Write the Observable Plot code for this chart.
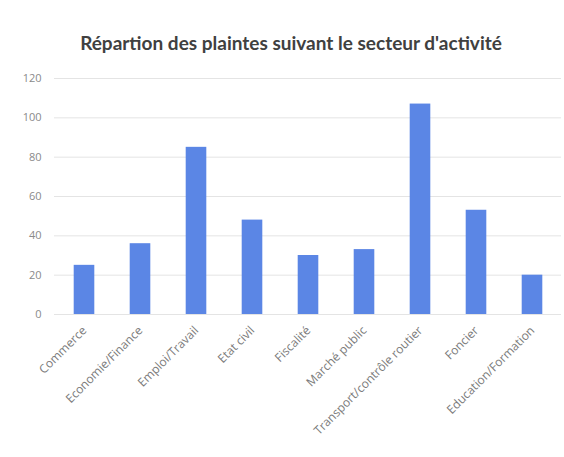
<!DOCTYPE html>
<html>
<head>
<meta charset="utf-8">
<script src="https://cdn.jsdelivr.net/npm/d3@7"></script>
<script src="https://cdn.jsdelivr.net/npm/@observablehq/plot@0.6"></script>
<style>
  html, body { margin: 0; padding: 0; background: #ffffff; }
  #wrap { width: 564px; height: 457px; overflow: hidden; }
  #title { height: 60px; box-sizing: border-box; padding-top: 33px; padding-left: 18px; text-align: center;
           font-family: Lato, "Open Sans", sans-serif; font-weight: bold; font-size: 19px; color: #404040; line-height: 20px; }
</style>
</head>
<body>
<div id="wrap">
  <div id="title">Répartion des plaintes suivant le secteur d'activité</div>
  <div id="chart"></div>
</div>
<script>
const categories = ["Commerce", "Economie/Finance", "Emploi/Travail", "Etat civil", "Fiscalité", "Marché public", "Transport/contrôle routier", "Foncier", "Education/Formation"];
const values = [25, 36, 85, 48, 30, 33, 107, 53, 20];
const yTicks = [0, 20, 40, 60, 80, 100, 120];

const data = categories.map((c, i) => ({category: c, value: values[i]}));

const chart = Plot.plot({
  width: 564,
  height: 397,
  marginLeft: 54,
  marginRight: 3,
  marginTop: 18,
  marginBottom: 143,
  style: {fontFamily: "'Open Sans', sans-serif", fontSize: "11px", color: "#7f7f7f", background: "#ffffff"},
  x: {domain: categories, padding: 0, label: null},
  y: {domain: [0, 120], ticks: yTicks, label: null},
  marks: [
    Plot.gridY(yTicks, {stroke: "#e4e4e4", strokeOpacity: 1, strokeWidth: 1}),
    Plot.barY(data, {x: "category", y: "value", fill: "#5b86e5", insetLeft: 17.7, insetRight: 17.7}),
    Plot.axisY(yTicks, {tickSize: 0, tickPadding: 13, fontSize: 11, fill: "#8a8a8a"}),
    Plot.axisX({tickSize: 0, tickPadding: 14, tickRotate: -45, fontSize: 12, fill: "#7a7a7a"})
  ]
});
document.getElementById("chart").appendChild(chart);
</script>
</body>
</html>
